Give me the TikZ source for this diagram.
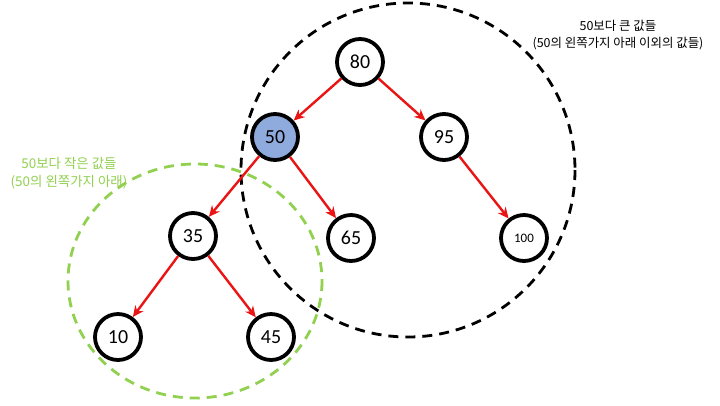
\documentclass[tikz,border=0pt]{standalone}
\usepackage{fontspec}
\setmainfont{Carlito}
\newfontfamily\kr{Noto Sans CJK KR}
\usepackage{xcolor}
\usepackage{tikz}
\usetikzlibrary{arrows.meta}

\definecolor{nodeblue}{RGB}{143,170,220}
\definecolor{treered}{RGB}{235,20,20}
\definecolor{leafgreen}{RGB}{146,208,80}

\begin{document}
\begin{tikzpicture}[
  x=1bp, y=-1bp,
  node/.style={draw, circle, line width=3.8bp, minimum size=46bp, inner sep=0pt, font=\fontsize{20}{24}\selectfont},
  arrow/.style={-{Stealth[length=11bp, width=10bp]}, treered, line width=2.4bp},
  group/.style={dashed, line width=2.8bp, dash pattern=on 10bp off 7bp},
  note/.style={align=center, font=\kr\fontsize{12.5}{17}\selectfont}
]
\useasboundingbox (0,0) rectangle (720,405);

% Groups
\draw[group] (408,170) circle (167);
\draw[group, leafgreen] (195,281) ellipse (127 and 117);

% Nodes
\node[node] (n80) at (360,62) {80};
\node[node, fill=nodeblue] (n50) at (275,137) {50};
\node[node] (n95) at (444,137) {95};
\node[node] (n35) at (193,236) {35};
\node[node] (n65) at (351,238) {65};
\node[node, font=\fontsize{13}{15}\selectfont] (n100) at (524,238) {100};
\node[node] (n10) at (118,337) {10};
\node[node] (n45) at (271,337) {45};

% Arrows
\draw[arrow] (n80) -- (n50);
\draw[arrow] (n80) -- (n95);
\draw[arrow] (n50) -- (n35);
\draw[arrow] (n50) -- (n65);
\draw[arrow] (n95) -- (n100);
\draw[arrow] (n35) -- (n10);
\draw[arrow] (n35) -- (n45);

% Labels
\node[note] (bigger) at (618,35) {50보다 큰 값들\\(50의 왼쪽가지 아래 이외의 값들)};
\node[note, text=leafgreen, font=\kr\fontsize{13.5}{18}\selectfont] (smaller) at (69,173) {50보다 작은 값들\\(50의 왼쪽가지 아래)};

\end{tikzpicture}
\end{document}
